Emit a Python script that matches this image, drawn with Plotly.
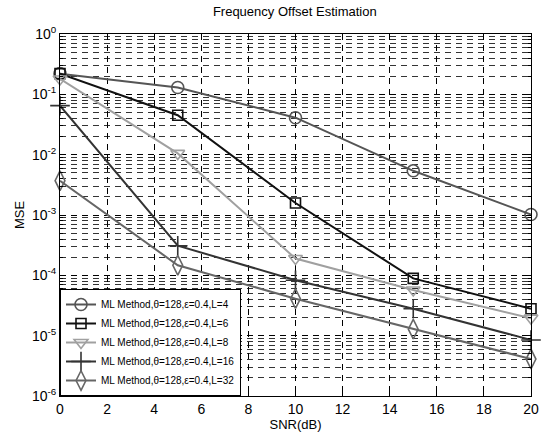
import plotly.graph_objects as go

snr = [0, 5, 10, 15, 20]
mse_L4 = [0.22, 0.13, 0.041, 0.0054, 0.00102]
mse_L6 = [0.22, 0.045, 0.00158, 8.9e-5, 2.8e-5]
mse_L8 = [0.18, 0.0105, 1.9e-4, 5.7e-5, 1.95e-5]
mse_L16 = [0.065, 3.1e-4, 8.3e-5, 2.8e-5, 8.5e-6]
mse_L32 = [3.7e-3, 1.47e-4, 4.1e-5, 1.28e-5, 4.1e-6]

names = ["ML Method,θ=128,ε=0.4,L=4", "ML Method,θ=128,ε=0.4,L=6",
         "ML Method,θ=128,ε=0.4,L=8", "ML Method,θ=128,ε=0.4,L=16",
         "ML Method,θ=128,ε=0.4,L=32"]
series = [mse_L4, mse_L6, mse_L8, mse_L16, mse_L32]
colors = ["#555555", "#111111", "#a0a0a0", "#333333", "#666666"]
symbols = ["circle-open", "square-open", "triangle-down-open", "cross-thin-open", "diamond-tall-open"]
sizes = [12, 10, 12, 14, 14]

ytickvals = [1e-6, 1e-5, 1e-4, 1e-3, 1e-2, 1e-1, 1]
yticktext = ["10<sup>-6</sup>", "10<sup>-5</sup>", "10<sup>-4</sup>", "10<sup>-3</sup>",
             "10<sup>-2</sup>", "10<sup>-1</sup>", "10<sup>0</sup>"]

fig = go.Figure()
for n, s, c, sym, sz in zip(names, series, colors, symbols, sizes):
    fig.add_trace(go.Scatter(
        x=snr, y=s, name=n, mode="lines+markers",
        line=dict(color=c, width=2),
        marker=dict(symbol=sym, size=sz, color=c, line=dict(width=1.6, color=c)),
        cliponaxis=False,
    ))

fig.update_layout(
    width=551, height=439,
    margin=dict(l=60, r=18, t=34, b=41),
    paper_bgcolor="white", plot_bgcolor="white",
    font=dict(family="Liberation Sans, Arial, sans-serif", size=13, color="black"),
    title=dict(text="Frequency Offset Estimation", x=0.535, xanchor="center",
               y=0.985, yanchor="top", font=dict(size=13)),
    legend=dict(x=0, y=0, xanchor="left", yanchor="bottom",
                bordercolor="black", borderwidth=1, bgcolor="white",
                font=dict(size=10), tracegroupgap=0, itemwidth=30),
    showlegend=True,
)
fig.update_xaxes(
    range=[0, 20], dtick=2, tick0=0,
    showline=True, linecolor="black", linewidth=1, mirror="ticks",
    ticks="inside", ticklen=5, tickcolor="black",
    showgrid=True, gridcolor="black", gridwidth=1, griddash="6px,5px",
    zeroline=False,
    title=dict(text="SNR(dB)", standoff=1, font=dict(size=13)),
    tickfont=dict(size=14),
)
fig.update_yaxes(
    type="log", range=[-6, 0],
    tickvals=ytickvals, ticktext=yticktext,
    showline=True, linecolor="black", linewidth=1, mirror="ticks",
    ticks="inside", ticklen=5, tickcolor="black",
    showgrid=True, gridcolor="black", gridwidth=1, griddash="6px,5px",
    minor=dict(dtick="D1", showgrid=True, gridcolor="#333333", gridwidth=1,
               griddash="6px,5px", ticks="inside", ticklen=3, tickcolor="black"),
    zeroline=False,
    title=dict(text="MSE", standoff=4, font=dict(size=13)),
    tickfont=dict(size=14),
)

fig.write_html("out.html")
